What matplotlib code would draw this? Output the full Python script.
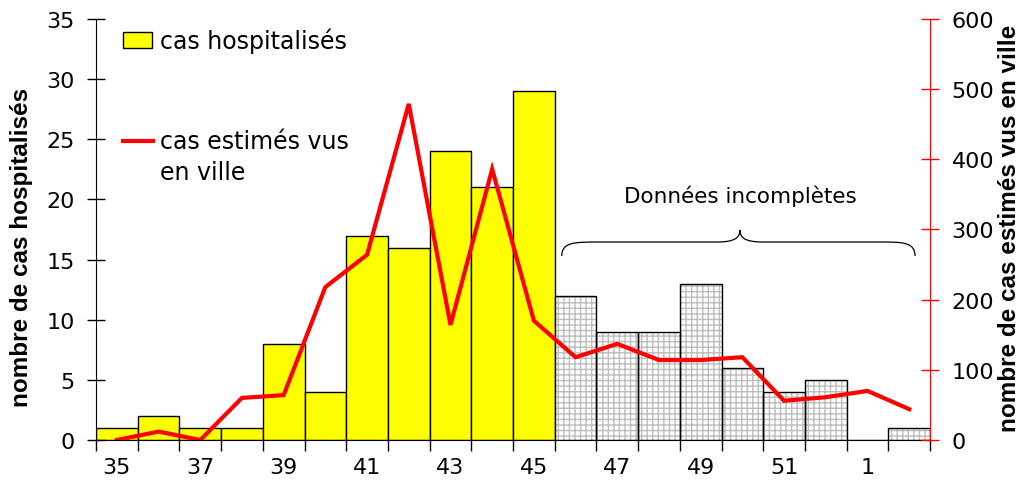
import matplotlib.pyplot as plt
from matplotlib.patches import Rectangle, PathPatch
from matplotlib.lines import Line2D
from matplotlib.path import Path

plt.rcParams['font.family'] = ['DejaVu Sans']

# semaines (35 -> 52, puis 1, 2)
semaines = ["35", "36", "37", "38", "39", "40", "41", "42", "43", "44",
            "45", "46", "47", "48", "49", "50", "51", "52", "1", "2"]
hospitalises = [1, 2, 1, 1, 8, 4, 17, 16, 24, 21,
                29, 12, 9, 9, 13, 6, 4, 5, 0, 1]
vus_en_ville = [0, 12, 0, 60, 64, 218, 264, 479, 164, 386,
                170, 118, 137, 114, 114, 118, 56, 61, 70, 44]
n_complet = 11  # les 11 premières semaines sont complètes

x = list(range(len(semaines)))
lab_font = dict(family="Liberation Sans", fontsize=17.5, fontweight="bold")

fig = plt.figure(figsize=(10.28, 4.85), dpi=100)
ax = fig.add_axes([0.0934, 0.0907, 0.8113, 0.8681])

# barres complètes (jaunes)
ax.bar(x[:n_complet], hospitalises[:n_complet], width=1.0,
       color="#FFFF00", edgecolor="black", linewidth=1)
# barres incomplètes : quadrillage gris puis contour noir
ax.bar(x[n_complet:], hospitalises[n_complet:], width=1.0,
       color="white", edgecolor="#BDBDBD", hatch="+++", linewidth=0)
ax.bar(x[n_complet:], hospitalises[n_complet:], width=1.0,
       fill=False, edgecolor="black", linewidth=1)

ax.set_xlim(-0.5, len(x) - 0.5)
ax.set_ylim(0, 35)
ax.set_yticks(range(0, 36, 5))
ax.tick_params(axis="y", direction="inout", length=13, width=1, pad=9, labelsize=16)
ax.set_xticks([i - 0.5 for i in range(len(x) + 1)])
ax.set_xticklabels([])
ax.tick_params(axis="x", which="major", direction="out", length=8, width=1)
ax.set_xticks(x[::2], minor=True)
ax.set_xticklabels(semaines[::2], minor=True)
ax.tick_params(axis="x", which="minor", length=0, pad=12, labelsize=16)
for s in ["top", "right"]:
    ax.spines[s].set_visible(False)
ax.set_ylabel("nombre de cas hospitalisés", **lab_font)
ax.yaxis.set_label_coords(-0.0755, 0.46)

# axe droit
ax2 = ax.twinx()
ax2.plot(x, vus_en_ville, color="#FF0000", lw=3, solid_joinstyle="miter")
ax2.set_ylim(0, 600)
ax2.set_yticks(range(0, 601, 100))
ax2.tick_params(axis="y", direction="inout", length=13, width=1, pad=9,
                labelsize=16, color="#FF0000")
ax2.spines["right"].set_color("#FF0000")
for s in ["top", "left", "bottom"]:
    ax2.spines[s].set_visible(False)
ax2.set_ylabel("nombre de cas estimés vus en ville", **lab_font)
ax2.yaxis.set_label_coords(1.082, 0.505)

# accolade "Données incomplètes"
x0, xa, xm, xb, x1 = 10.67, 11.58, 14.94, 18.3, 19.14
ylo, ymid, ytop = 15.3, 16.46, 17.46
verts = [(x0, ylo), (x0, ymid), (x0 + 0.3, ymid), (xa, ymid),
         (xm - 0.55, ymid),
         (xm - 0.1, ymid), (xm, ymid + 0.4), (xm, ytop),
         (xm, ymid + 0.4), (xm + 0.1, ymid), (xm + 0.55, ymid),
         (xb, ymid),
         (x1 - 0.3, ymid), (x1, ymid), (x1, ylo)]
codes = [Path.MOVETO, Path.CURVE4, Path.CURVE4, Path.CURVE4,
         Path.LINETO,
         Path.CURVE4, Path.CURVE4, Path.CURVE4,
         Path.CURVE4, Path.CURVE4, Path.CURVE4,
         Path.LINETO,
         Path.CURVE4, Path.CURVE4, Path.CURVE4]
ax2.add_patch(PathPatch(Path(verts, codes), transform=ax.transData,
                        fill=False, edgecolor="black", lw=0.9))
ax2.text(xm, 20.37, "Données incomplètes", transform=ax.transData,
         ha="center", va="center", fontsize=15.5)

# légende
ax2.add_patch(Rectangle((0.0324, 0.931), 0.0348, 0.038, transform=ax.transAxes,
                        facecolor="#FFFF00", edgecolor="black", lw=1))
ax2.text(0.0767, 0.950, "cas hospitalisés", transform=ax.transAxes,
         ha="left", va="center", fontsize=17)
ax2.add_line(Line2D([0.0324, 0.0684], [0.710, 0.710], transform=ax.transAxes,
                    color="#FF0000", lw=3))
ax2.text(0.0767, 0.710, "cas estimés vus", transform=ax.transAxes,
         ha="left", va="center", fontsize=17)
ax2.text(0.0767, 0.637, "en ville", transform=ax.transAxes,
         ha="left", va="center", fontsize=17)

fig.savefig("out.png", dpi=100)
